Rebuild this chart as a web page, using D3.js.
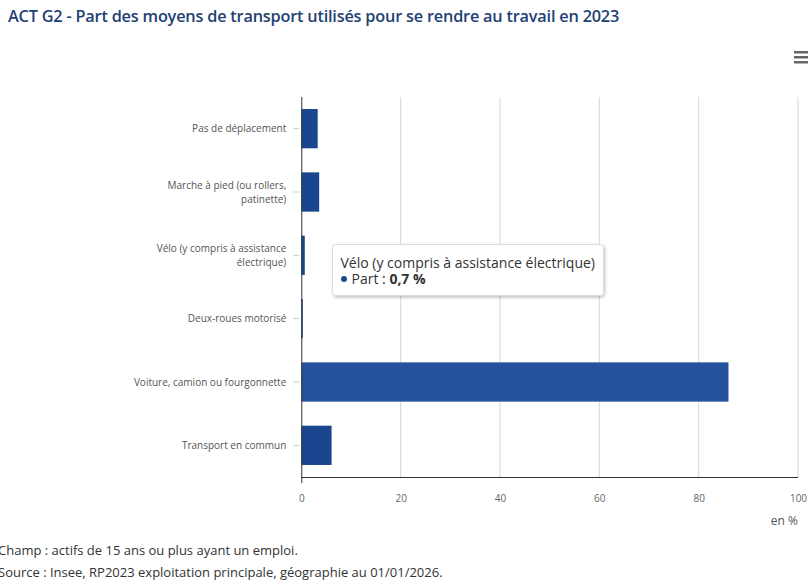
<!DOCTYPE html>
<html>
<head>
<meta charset="utf-8">
<script src="https://cdn.jsdelivr.net/npm/d3@7"></script>
<style>
  body { margin: 0; background: #fff; overflow: hidden; }
  text { font-family: "Open Sans", sans-serif; }
</style>
</head>
<body>
<div id="chart"></div>
<script>
var categories = [
  "Pas de déplacement",
  "Marche à pied (ou rollers, patinette)",
  "Vélo (y compris à assistance électrique)",
  "Deux-roues motorisé",
  "Voiture, camion ou fourgonnette",
  "Transport en commun"
];
var labelLines = [
  ["Pas de déplacement"],
  ["Marche à pied (ou rollers,", "patinette)"],
  ["Vélo (y compris à assistance", "électrique)"],
  ["Deux-roues motorisé"],
  ["Voiture, camion ou fourgonnette"],
  ["Transport en commun"]
];
var values = [3.3, 3.6, 0.7, 0.3, 86.0, 6.1];
var xTicks = [0, 20, 40, 60, 80, 100];
var hovered = 2;

var csize = [808, 582];
var margin = {top: 97, left: 301.3, right: 9, bottom: 105};
var w = csize[0] - margin.left - margin.right,
    h = csize[1] - margin.top - margin.bottom;

var svg = d3.select("#chart").append("svg")
  .attr("width", csize[0])
  .attr("height", csize[1]);

svg.append("text")
  .attr("x", 8).attr("y", 22)
  .style("font-size", "16.3px")
  .style("font-weight", "600")
  .style("fill", "#1f4174")
  .style("letter-spacing", "-0.2px")
  .text("ACT G2 - Part des moyens de transport utilisés pour se rendre au travail en 2023");

// menu icon
[0, 5, 10].forEach(function (dy) {
  svg.append("rect")
    .attr("x", 794).attr("y", 51 + dy)
    .attr("width", 14).attr("height", 2.5)
    .style("fill", "#666");
});

var chart = svg.append("g")
  .attr("transform", "translate(" + margin.left + "," + margin.top + ")");

var x = d3.scaleLinear().domain([0, 100]).range([0, w - 1]);
var y = d3.scaleBand().domain(categories).range([0, h]).paddingInner(0.38).paddingOuter(0.19);

chart.selectAll(".grid")
  .data(xTicks.slice(1)).enter()
  .append("line")
    .attr("class", "grid")
    .attr("x1", function (d) { return x(d); })
    .attr("x2", function (d) { return x(d); })
    .attr("y1", 0).attr("y2", h)
    .style("stroke", "#d6d6d6");

chart.selectAll(".bar")
  .data(values).enter()
  .append("rect")
    .attr("class", "bar")
    .attr("x", 0)
    .attr("y", function (d, i) { return y(categories[i]); })
    .attr("width", function (d) { return x(d); })
    .attr("height", y.bandwidth())
    .style("fill", function (d, i) { return i === 4 ? "#24529c" : "#1a4690"; });

// y axis
var yAxis = chart.append("g")
  .call(d3.axisLeft(y).tickSize(7).tickFormat(""));
yAxis.select(".domain").attr("d", "M0.5,0V" + (h + 6)).style("stroke", "#333");
yAxis.selectAll(".tick line").style("stroke", "#ccc").attr("x2", -2).attr("x1", -8);

chart.selectAll(".cat")
  .data(labelLines).enter()
  .append("text")
    .attr("class", "cat")
    .attr("text-anchor", "end")
    .style("font-size", "10px")
    .style("fill", "#555")
    .attr("transform", function (d, i) {
      var cy = y(categories[i]) + y.bandwidth() / 2;
      return "translate(-15," + (cy + 3.5 - (d.length - 1) * 7) + ")";
    })
    .selectAll("tspan")
    .data(function (d) { return d; }).enter()
    .append("tspan")
      .attr("x", 0)
      .attr("dy", function (d, i) { return i ? 14 : 0; })
      .text(function (d) { return d; });

// x axis
var xAxis = chart.append("g")
  .attr("transform", "translate(0," + h + ")")
  .call(d3.axisBottom(x).tickValues(xTicks).tickSize(0).tickPadding(18));
xAxis.select(".domain").attr("d", "M0," + 0.5 + "H" + (w - 1)).style("stroke", "#333");
xAxis.selectAll(".tick text")
  .style("font-size", "10px")
  .style("fill", "#666")
  .style("font-family", "Open Sans, sans-serif");

svg.append("text")
  .attr("x", 798).attr("y", 525)
  .attr("text-anchor", "end")
  .style("font-size", "12px")
  .style("fill", "#555")
  .text("en %");

svg.append("text")
  .attr("x", -2).attr("y", 555)
  .style("font-size", "13px")
  .style("fill", "#333")
  .text("Champ : actifs de 15 ans ou plus ayant un emploi.");
svg.append("text")
  .attr("x", -2).attr("y", 577)
  .style("font-size", "13px")
  .style("fill", "#333")
  .text("Source : Insee, RP2023 exploitation principale, géographie au 01/01/2026.");

// tooltip
var defs = svg.append("defs");
var f = defs.append("filter").attr("id", "shadow").attr("x", "-10%").attr("y", "-20%").attr("width", "130%").attr("height", "160%");
f.append("feDropShadow").attr("dx", 1).attr("dy", 1.5).attr("stdDeviation", 1.5).attr("flood-color", "#000").attr("flood-opacity", 0.25);

var tip = svg.append("g")
  .attr("transform", "translate(332.5,244.5)");
tip.append("rect")
  .attr("width", 271).attr("height", 51)
  .attr("rx", 3)
  .style("fill", "#fff")
  .style("stroke", "#ddd")
  .attr("filter", "url(#shadow)");
tip.append("text")
  .attr("x", 8).attr("y", 23)
  .style("font-size", "14px")
  .style("fill", "#333")
  .text(categories[hovered]);
tip.append("circle")
  .attr("cx", 11.5).attr("cy", 34.5).attr("r", 3)
  .style("fill", "#1a4690");
var t2 = tip.append("text")
  .attr("x", 19).attr("y", 39)
  .style("font-size", "14px")
  .style("fill", "#333");
t2.append("tspan").text("Part : ");
t2.append("tspan").style("font-weight", "bold").text(String(values[hovered]).replace(".", ",") + " %");
</script>
</body>
</html>
